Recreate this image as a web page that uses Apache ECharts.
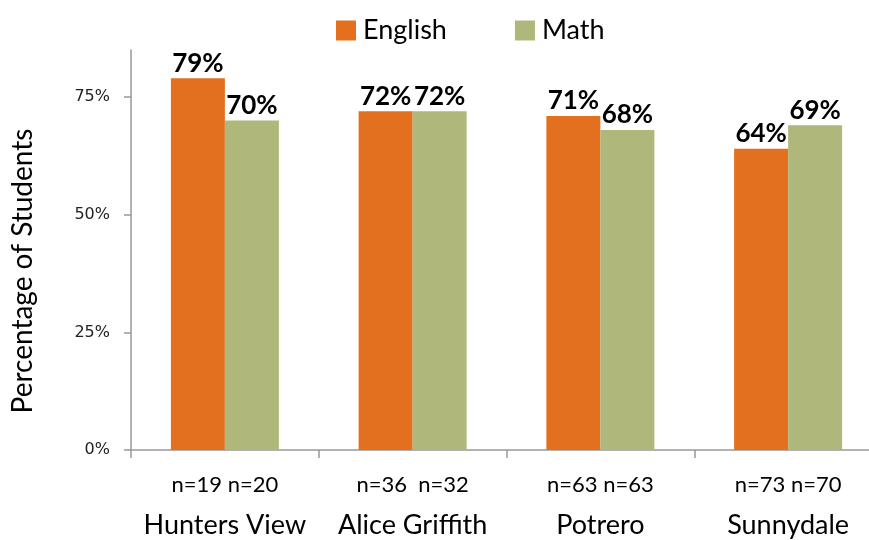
<!DOCTYPE html>
<html>
<head>
<meta charset="utf-8">
<script src="https://cdn.jsdelivr.net/npm/echarts@6/dist/echarts.min.js"></script>
<style>
  html, body { margin: 0; padding: 0; background: #fff; }
  #main { width: 869px; height: 540px; }
</style>
</head>
<body>
<div id="main"></div>
<script>
// datos
var categories = ['Hunters View', 'Alice Griffith', 'Potrero', 'Sunnydale'];
var nLabels = ['n=19 n=20', 'n=36  n=32', 'n=63 n=63', 'n=73 n=70'];
var english = [79, 72, 71, 64];
var math = [70, 72, 68, 69];
var yTicks = [0, 25, 50, 75];

var chartDom = document.getElementById('main');
var myChart = echarts.init(chartDom);

var fontName = 'Lato';

var barLabel = {
  show: true,
  position: 'top',
  distance: 2,
  color: '#000',
  fontFamily: fontName,
  fontWeight: 'bold',
  fontSize: 26,
  formatter: function (p) { return p.value + '%'; }
};

var option = {
  animation: false,
  textStyle: { fontFamily: fontName },
  legend: {
    top: 12,
    left: 331,
    itemWidth: 20,
    itemHeight: 20,
    itemGap: 68,
    icon: 'rect',
    textStyle: { fontSize: 27, color: '#000', fontFamily: fontName, padding: [0, 0, 0, 2] },
    data: ['English', 'Math']
  },
  grid: {
    left: 131,
    right: -13,
    top: 50,
    bottom: 90,
    containLabel: false,
    outerBoundsMode: 'none'
  },
  xAxis: {
    type: 'category',
    data: categories,
    axisLine: { lineStyle: { color: '#999', width: 1.5 } },
    axisTick: { show: true, length: 8, lineStyle: { color: '#999', width: 1.5 } },
    axisLabel: {
      interval: 0,
      margin: 22,
      formatter: function (value, idx) {
        return '{n|' + nLabels[idx] + '}\n{c|' + value + '}';
      },
      rich: {
        n: { fontSize: 22, lineHeight: 26, color: '#000', fontFamily: fontName },
        c: { fontSize: 27, lineHeight: 54, color: '#000', fontFamily: fontName }
      }
    }
  },
  yAxis: {
    type: 'value',
    min: 0,
    max: 85,
    interval: 25,
    name: 'Percentage of Students',
    nameLocation: 'middle',
    nameGap: 94,
    nameTextStyle: { fontSize: 28, color: '#000', fontFamily: fontName, padding: [0, 42, 0, 0] },
    splitLine: { show: false },
    axisLine: { show: true, lineStyle: { color: '#999', width: 1.5 } },
    axisTick: { show: true, length: 7, customValues: yTicks, lineStyle: { color: '#999', width: 1.5 } },
    axisLabel: {
      customValues: yTicks,
      margin: 21,
      fontSize: 16,
      fontFamily: 'DejaVu Sans',
      color: '#222',
      formatter: '{value}%'
    }
  },
  series: [
    {
      name: 'English',
      type: 'bar',
      data: english,
      barWidth: 54,
      barGap: '0%',
      itemStyle: { color: '#E3701E' },
      label: barLabel
    },
    {
      name: 'Math',
      type: 'bar',
      data: math,
      barWidth: 54,
      barGap: '0%',
      itemStyle: { color: '#B0B77A' },
      label: barLabel
    }
  ]
};

myChart.setOption(option);
</script>
</body>
</html>
